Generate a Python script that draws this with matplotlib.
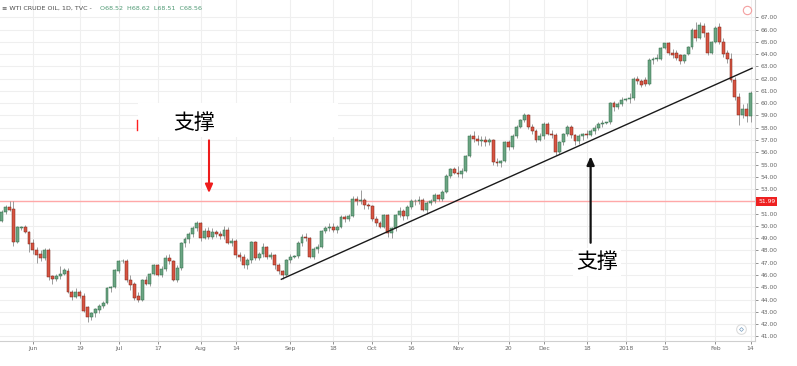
import matplotlib
matplotlib.use("Agg")
import matplotlib.pyplot as plt
import matplotlib.transforms as mtransforms
from matplotlib.patches import Rectangle
import pandas as pd

# Tagesdaten WTI (TVC), 22.05.2017 - 14.02.2018, Werktage
dates = pd.bdate_range("2017-05-22", "2018-02-14")

opens = [50.40, 51.10, 51.50, 51.35, 48.70, 49.80, 49.90, 49.50, 48.60, 48.00,
         47.70, 47.40, 48.00, 45.90, 45.70, 45.90, 46.10, 46.30, 44.60, 44.20,
         44.60, 44.30, 43.40, 42.55, 42.90, 43.15, 43.50, 43.70, 44.90, 45.00,
         46.30, 47.10, 47.10, 45.60, 45.30, 44.30, 44.00, 45.60, 45.30, 46.10,
         46.80, 46.00, 46.50, 47.40, 47.10, 45.60, 46.60, 48.60, 48.90, 49.30,
         49.80, 50.20, 49.00, 49.60, 49.10, 49.50, 49.30, 49.20, 49.70, 48.60,
         48.80, 47.60, 47.50, 46.80, 47.20, 48.70, 47.40, 47.70, 48.30, 47.50,
         47.60, 46.80, 46.30, 46.00, 47.20, 47.50, 47.55, 48.60, 49.10, 49.00,
         47.50, 48.10, 48.30, 49.60, 49.80, 49.90, 49.70, 49.90, 50.70, 50.60,
         50.80, 52.20, 52.00, 52.10, 51.70, 51.60, 50.60, 50.20, 49.95, 50.90,
         49.40, 49.80, 50.90, 51.20, 50.80, 51.55, 52.00, 52.05, 52.10, 51.30,
         51.90, 52.00, 52.50, 52.20, 52.80, 54.10, 54.60, 54.30, 54.20, 54.50,
         55.70, 57.30, 57.10, 56.90, 57.00, 56.80, 57.00, 55.20, 55.10, 55.30,
         56.80, 56.40, 57.30, 58.10, 58.60, 59.00, 58.10, 57.70, 57.00, 57.30,
         58.30, 57.50, 57.40, 56.05, 56.80, 57.50, 58.10, 57.40, 56.90, 57.30,
         57.50, 57.40, 57.70, 58.00, 58.30, 58.40, 58.45, 60.00, 59.70, 59.90,
         60.30, 60.35, 60.40, 62.00, 61.80, 61.90, 61.60, 63.50, 63.60, 63.60,
         64.50, 64.90, 64.10, 64.10, 63.90, 63.45, 64.00, 64.60, 66.00, 65.30,
         66.30, 65.70, 64.10, 65.00, 66.20, 65.00, 64.10, 63.60, 61.90, 60.50,
         59.00, 59.50, 58.95]

highs = [51.30, 51.70, 52.00, 52.00, 50.00, 50.00, 50.10, 49.60, 48.90, 48.30,
         48.00, 48.20, 48.20, 46.00, 46.10, 46.70, 46.60, 46.60, 44.80, 44.90,
         44.80, 44.50, 43.50, 43.00, 43.30, 43.60, 43.90, 45.00, 45.10, 46.50,
         47.20, 47.30, 47.30, 46.00, 45.40, 44.60, 45.70, 45.90, 46.20, 46.90,
         46.90, 46.70, 47.60, 47.70, 47.20, 46.80, 48.70, 49.10, 49.50, 50.00,
         50.40, 50.30, 49.80, 49.90, 49.80, 49.70, 49.60, 50.00, 49.90, 49.00,
         48.90, 47.90, 47.70, 47.40, 48.80, 48.80, 47.90, 48.60, 48.40, 47.90,
         47.70, 47.00, 46.40, 47.30, 47.70, 47.60, 48.80, 49.30, 49.40, 49.10,
         48.30, 48.50, 49.70, 50.00, 50.20, 50.20, 50.10, 50.90, 50.90, 51.00,
         52.40, 52.40, 52.90, 52.30, 51.90, 51.70, 50.80, 50.40, 51.00, 51.00,
         49.90, 51.00, 51.50, 51.40, 51.70, 52.20, 52.20, 52.40, 52.30, 52.00,
         52.20, 52.70, 52.60, 52.90, 54.20, 54.70, 54.80, 54.90, 54.70, 55.80,
         57.50, 57.70, 57.40, 57.30, 57.30, 57.20, 57.10, 55.50, 55.40, 56.90,
         57.00, 57.50, 58.20, 58.70, 59.20, 59.10, 58.30, 57.90, 57.60, 58.50,
         58.50, 57.80, 57.60, 56.90, 57.60, 58.20, 58.20, 57.50, 57.50, 57.60,
         57.80, 57.90, 58.20, 58.50, 58.60, 58.50, 60.10, 60.20, 60.10, 60.50,
         60.40, 60.80, 62.10, 62.20, 62.00, 62.10, 63.70, 63.80, 64.00, 64.60,
         64.90, 65.00, 64.40, 64.30, 64.00, 64.00, 64.70, 66.10, 66.60, 66.60,
         66.50, 65.80, 65.10, 66.30, 66.50, 65.30, 64.30, 64.10, 62.10, 60.80,
         59.90, 60.00, 61.00]

lows = [50.30, 51.00, 51.20, 48.40, 48.60, 49.70, 49.40, 47.90, 47.70, 47.00,
        47.10, 47.20, 45.60, 45.30, 45.50, 45.70, 46.00, 44.50, 44.00, 44.10,
        44.10, 43.00, 42.20, 42.30, 42.60, 42.90, 43.30, 43.60, 44.60, 44.90,
        46.20, 47.00, 45.40, 44.80, 44.00, 43.80, 43.90, 45.20, 45.10, 46.00,
        45.90, 45.80, 46.30, 46.90, 45.50, 45.40, 46.40, 48.30, 48.60, 49.10,
        49.60, 48.80, 48.90, 48.90, 48.90, 49.10, 48.90, 48.90, 48.50, 48.40,
        47.40, 47.10, 46.60, 46.50, 47.00, 47.20, 47.20, 47.50, 47.30, 47.30,
        46.50, 46.10, 45.70, 45.90, 47.00, 47.40, 47.40, 48.40, 48.80, 47.40,
        47.30, 47.80, 48.20, 49.40, 49.60, 49.50, 49.40, 49.80, 50.30, 50.40,
        50.70, 51.70, 51.80, 51.40, 51.40, 50.40, 50.00, 49.80, 49.80, 49.10,
        49.00, 49.60, 50.70, 50.50, 50.60, 51.40, 51.70, 51.80, 51.20, 51.00,
        51.70, 51.90, 52.00, 52.00, 52.70, 53.90, 54.20, 54.00, 53.90, 54.40,
        55.60, 56.80, 56.60, 56.50, 56.50, 56.60, 55.00, 54.90, 54.80, 55.20,
        56.20, 56.30, 57.20, 58.00, 58.50, 57.90, 57.50, 56.80, 56.90, 57.10,
        57.40, 57.20, 55.80, 55.90, 56.60, 57.30, 57.20, 56.60, 56.70, 57.00,
        57.20, 57.30, 57.50, 57.80, 58.10, 58.30, 58.30, 59.40, 59.50, 59.80,
        60.20, 60.00, 60.30, 61.60, 61.30, 61.40, 61.50, 63.20, 63.40, 63.50,
        64.40, 63.90, 63.70, 63.50, 63.20, 63.30, 63.90, 64.40, 65.10, 65.20,
        65.40, 63.90, 64.00, 64.90, 64.80, 63.80, 63.30, 61.70, 60.30, 58.20,
        58.80, 58.50, 58.50]

closes = [51.10, 51.50, 51.30, 48.70, 49.90, 49.90, 49.50, 48.50, 48.00, 47.60,
          47.40, 48.00, 45.80, 45.70, 45.90, 46.10, 46.40, 44.60, 44.20, 44.60,
          44.30, 43.10, 42.55, 42.90, 43.20, 43.50, 43.70, 44.90, 45.00, 46.40,
          47.10, 47.15, 45.60, 45.20, 44.10, 44.00, 45.60, 45.30, 46.10, 46.80,
          46.00, 46.50, 47.40, 47.10, 45.60, 46.60, 48.60, 48.90, 49.30, 49.80,
          50.20, 49.00, 49.60, 49.10, 49.50, 49.30, 49.20, 49.70, 48.60, 48.80,
          47.60, 47.50, 46.80, 47.20, 48.70, 47.40, 47.70, 48.30, 47.50, 47.60,
          46.80, 46.30, 46.00, 47.20, 47.50, 47.55, 48.60, 49.10, 49.00, 47.50,
          48.10, 48.30, 49.60, 49.80, 49.90, 49.70, 49.90, 50.70, 50.60, 50.80,
          52.20, 52.00, 52.10, 51.70, 51.60, 50.60, 50.20, 49.95, 50.90, 49.40,
          49.80, 50.90, 51.20, 50.80, 51.55, 52.00, 52.05, 52.10, 51.30, 51.90,
          52.00, 52.50, 52.20, 52.80, 54.10, 54.60, 54.30, 54.20, 54.50, 55.70,
          57.30, 57.10, 56.90, 57.00, 56.80, 57.00, 55.20, 55.10, 55.30, 56.80,
          56.40, 57.30, 58.10, 58.60, 59.00, 58.10, 57.70, 57.00, 57.30, 58.30,
          57.50, 57.40, 56.05, 56.80, 57.50, 58.10, 57.40, 56.90, 57.30, 57.50,
          57.40, 57.70, 58.00, 58.30, 58.40, 58.45, 60.00, 59.70, 59.90, 60.30,
          60.35, 60.40, 62.00, 61.80, 61.50, 61.60, 63.50, 63.60, 63.70, 64.50,
          64.90, 64.10, 63.90, 63.70, 63.40, 63.90, 64.60, 66.00, 65.30, 66.40,
          65.70, 64.10, 65.00, 66.10, 65.00, 64.00, 63.60, 61.90, 60.50, 59.00,
          59.50, 58.95, 60.80]

# Beschriftung der Zeitachse
tick_dates = ["2017-06-01", "2017-06-19", "2017-07-03", "2017-07-17", "2017-08-01",
              "2017-08-14", "2017-09-01", "2017-09-18", "2017-10-02", "2017-10-16",
              "2017-11-01", "2017-11-20", "2017-12-01", "2017-12-18", "2018-01-01",
              "2018-01-15", "2018-02-01", "2018-02-14"]
tick_labels = ["Jun", "19", "Jul", "17", "Aug", "14", "Sep", "18", "Oct", "16",
               "Nov", "20", "Dec", "18", "2018", "15", "Feb", "14"]
price_ticks = list(range(41, 68))
last_price = 51.99

# Trendlinie (Datum, Kurs)
trend_start = ("2017-08-30", 45.65)
trend_end = ("2018-02-14", 62.85)

df = pd.DataFrame({"o": opens, "h": highs, "l": lows, "c": closes}, index=dates)
pos = {d: i for i, d in enumerate(df.index)}

up_col, dn_col = "#6ba583", "#d75442"
up_edge, dn_edge = "#2f6b48", "#7a2318"

fig = plt.figure(figsize=(7.97, 3.66), dpi=100)
W, H = 797, 366
ax = fig.add_axes([0, 25 / H, 755 / W, 341 / H])
ax.set_xlim(-0.44, -0.44 + 755 / 3.9)
ax.set_ylim(40.62, 68.41)

# Gitter
for p in price_ticks:
    ax.axhline(p, color="#efefef", lw=0.8, zorder=0)
xt = [pos[pd.Timestamp(d)] for d in tick_dates]
for x in xt:
    ax.axvline(x, color="#efefef", lw=0.8, zorder=0)

# Kerzen
x = list(range(len(df)))
cols = [up_col if c >= o else dn_col for o, c in zip(df.o, df.c)]
edges = [up_edge if c >= o else dn_edge for o, c in zip(df.o, df.c)]
ax.vlines(x, df.l, df.h, color="#8c8c8c", lw=0.6, zorder=2)
bottoms = [min(o, c) for o, c in zip(df.o, df.c)]
heights = [max(abs(c - o), 0.05) for o, c in zip(df.o, df.c)]
ax.bar(x, heights, bottom=bottoms, width=0.74, color=cols, edgecolor=edges,
       linewidth=0.35, zorder=3)

# Widerstandslinie und Trendlinie
ax.axhline(last_price, color="#ffa8a8", lw=1.0, zorder=1)
ax.plot([pos[pd.Timestamp(trend_start[0])] - 0.3, pos[pd.Timestamp(trend_end[0])] + 0.4],
        [trend_start[1], trend_end[1]], color="#1a1a1a", lw=1.0, zorder=4)

# Annotationen
ax.add_patch(Rectangle((34.95, 57.24), 51.3, 2.78, facecolor="white",
                       edgecolor="none", zorder=5))
ax.plot([34.7, 34.7], [57.82, 58.63], color="#ff2020", lw=1.0, zorder=6)
ax.text(49.3, 58.38, "支撑", fontsize=15, family=["Noto Sans CJK SC"],
        ha="center", va="center", color="black", zorder=6)
ax.annotate("", xy=(53.15, 52.45), xytext=(53.15, 57.2),
            arrowprops=dict(arrowstyle="-|>,head_length=0.5,head_width=0.22",
                            color="#ee1c1c", lw=1.5), zorder=6)
ax.annotate("", xy=(151.0, 55.9), xytext=(151.0, 48.4),
            arrowprops=dict(arrowstyle="-|>,head_length=0.5,head_width=0.22",
                            color="#111111", lw=1.6), zorder=6)
ax.text(152.65, 47.06, "支撑", fontsize=15, family=["Noto Sans CJK SC"],
        ha="center", va="center", color="black", zorder=6,
        bbox=dict(facecolor="white", edgecolor="none", pad=2))

# Kopfzeile
ax.text(0.002, 0.975, "≡ WTI CRUDE OIL, 1D, TVC -", transform=ax.transAxes,
        fontsize=4.6, color="#4a4a4a", va="center", ha="left")
ax.text(0.133, 0.975, "O68.52  H68.62  L68.51  C68.56", transform=ax.transAxes,
        fontsize=4.6, color="#4f9a74", va="center", ha="left")
ax.plot([0.989], [0.97], marker="o", ms=6, mfc="none", mec="#f4a0a0", mew=0.8,
        transform=ax.transAxes, clip_on=False)
ax.plot([0.981], [0.035], marker="o", ms=7, mfc="white", mec="#dddddd", mew=0.8,
        transform=ax.transAxes, clip_on=False)
ax.plot([0.981], [0.035], marker="D", ms=2, mfc="none", mec="#7aa0c0", mew=0.5,
        transform=ax.transAxes, clip_on=False)

# Achsen
ax.set_xticks(xt)
ax.set_xticklabels(tick_labels)
ax.set_yticks(price_ticks)
# die 52.00 liegt unter dem roten Kursschild
ax.set_yticklabels(["" if abs(p - last_price) < 0.5 else f"{p:.2f}" for p in price_ticks])
ax.yaxis.tick_right()
ax.tick_params(axis="y", labelsize=4.3, colors="#666666", length=2, width=0.5, pad=2)
ax.tick_params(axis="x", labelsize=4.3, colors="#666666", length=2, width=0.5, pad=1.5)
for s in ["top", "left"]:
    ax.spines[s].set_visible(False)
ax.spines["right"].set_color("#cfcfcf")
ax.spines["bottom"].set_color("#cfcfcf")
ax.spines["right"].set_linewidth(0.8)
ax.spines["bottom"].set_linewidth(0.8)

trans = mtransforms.blended_transform_factory(ax.transAxes, ax.transData)
ax.text(1.004, last_price, f"{last_price:.2f}", transform=trans, fontsize=4.3,
        color="white", va="center", ha="left", zorder=7,
        bbox=dict(facecolor="#ee2020", edgecolor="none", pad=1.6))

plt.savefig("out.png", dpi=100)
